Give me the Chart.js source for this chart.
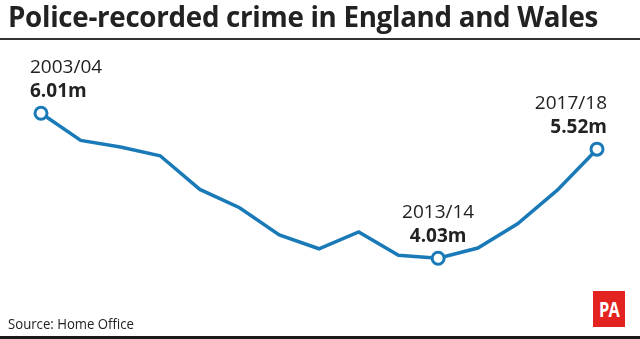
<!DOCTYPE html>
<html>
<head>
<meta charset="utf-8">
<script src="https://cdn.jsdelivr.net/npm/chart.js@4"></script>
<style>
  html, body { margin: 0; padding: 0; background: #fff; }
  #wrap { position: relative; width: 640px; height: 339px; overflow: hidden; font-family: "Open Sans", sans-serif; }
  #chart { position: absolute; left: 0; top: 0; }
  #title { position: absolute; left: 8px; top: -3px; font-size: 28px; font-weight: 700; color: #222; white-space: nowrap; transform-origin: 0 0; letter-spacing: -0.3px; }
  #rule { position: absolute; left: 0; top: 38px; width: 640px; height: 2px; background: #333; }
  #source { position: absolute; left: 8px; top: 314px; font-size: 14px; color: #222; white-space: nowrap; transform-origin: 0 0; }
  #logo { position: absolute; left: 593px; top: 291px; width: 32px; height: 36px; background: #e2231f; }
  #logo span { display: block; color: #fff; font-weight: 700; font-size: 21px; line-height: 36px; text-align: center; letter-spacing: -1px; transform: scaleX(0.78); }
  #foot { position: absolute; left: 0; top: 336px; width: 640px; height: 3px; background: #1a1a1a; }
</style>
</head>
<body>
<div id="wrap">
  <canvas id="chart" width="640" height="339"></canvas>
  <div id="title">Police-recorded crime in England and Wales</div>
  <div id="rule"></div>
  <div id="source">Source: Home Office</div>
  <div id="logo"><span>PA</span></div>
  <div id="foot"></div>
</div>
<script>
// financial years and recorded offences (millions)
const years = ['2003/04', '2004/05', '2005/06', '2006/07', '2007/08', '2008/09', '2009/10',
  '2010/11', '2011/12', '2012/13', '2013/14', '2014/15', '2015/16', '2016/17', '2017/18'];
const crimes = [6.01, 5.64, 5.55, 5.43, 4.97, 4.72, 4.35, 4.16, 4.39, 4.07, 4.03, 4.17, 4.50, 4.96, 5.52];
// which years get a label, and how it sits against the point
const callouts = [
  { index: 0, align: 'left', dx: -11 },
  { index: 10, align: 'center', dx: 0 },
  { index: 14, align: 'right', dx: 10 }
];

const blue = '#1a7ab8';

// squeeze a line of text into a given width
function fitWidth(el, w) {
  const sx = w / el.getBoundingClientRect().width;
  el.style.transform = 'scaleX(' + sx + ')';
}
fitWidth(document.getElementById('title'), 590);
fitWidth(document.getElementById('source'), 126);

const calloutLabels = {
  id: 'calloutLabels',
  afterDatasetsDraw(chart) {
    const ctx = chart.ctx;
    const pts = chart.getDatasetMeta(0).data;
    ctx.save();
    callouts.forEach(c => {
      const p = pts[c.index];
      ctx.textAlign = c.align;
      ctx.textBaseline = 'alphabetic';
      ctx.fillStyle = '#222';
      ctx.font = '19px "Open Sans"';
      ctx.fillText(years[c.index], p.x + c.dx, p.y - 40.5);
      ctx.font = 'bold 19px "Open Sans"';
      ctx.fillText(crimes[c.index].toFixed(2) + 'm', p.x + c.dx, p.y - 16.5);
    });
    ctx.restore();
  }
};

const marked = callouts.map(c => c.index);

new Chart(document.getElementById('chart'), {
  type: 'line',
  data: {
    labels: years,
    datasets: [{
      data: crimes,
      borderColor: blue,
      borderWidth: 3.5,
      tension: 0,
      clip: false,
      pointRadius: years.map((y, i) => marked.includes(i) ? 6 : 0),
      pointBorderWidth: 3,
      pointBorderColor: blue,
      pointBackgroundColor: '#fff'
    }]
  },
  options: {
    responsive: false,
    animation: false,
    layout: { padding: { left: 41, right: 43, top: 77.4, bottom: 41.9 } },
    plugins: { legend: { display: false }, tooltip: { enabled: false } },
    scales: {
      x: { display: false, offset: false },
      y: { display: false, min: 3.5, max: 6.5 }
    }
  },
  plugins: [calloutLabels]
});
</script>
</body>
</html>
